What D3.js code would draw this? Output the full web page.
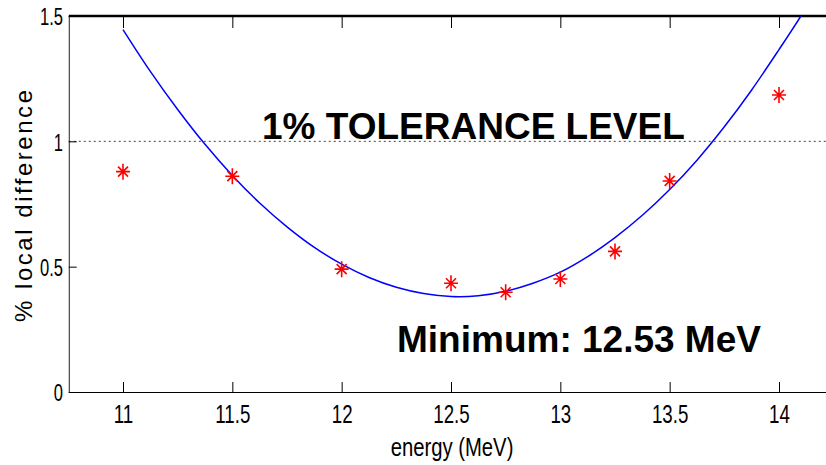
<!DOCTYPE html>
<html>
<head>
<meta charset="utf-8">
<script src="https://cdn.jsdelivr.net/npm/d3@7/dist/d3.min.js"></script>
<style>
  html, body { margin: 0; padding: 0; background: #fff; }
  svg { display: block; }
  .axis-text { font-family: "Liberation Sans", Arial, sans-serif; fill: #000; }
  .annot { font-family: "Liberation Sans", Arial, sans-serif; font-weight: bold; fill: #000; }
</style>
</head>
<body>
<script>
// ---- data ----
const measEnergy = [11, 11.5, 12, 12.5, 12.75, 13, 13.25, 13.5, 14];
const measDiff   = [0.879, 0.861, 0.49, 0.434, 0.398, 0.451, 0.561, 0.842, 1.185];

const fitEnergy = [11.0, 11.125, 11.25, 11.375, 11.5, 11.625, 11.75, 11.875, 12.0, 12.125, 12.25, 12.375,
                   12.5, 12.625, 12.75, 12.875, 13.0, 13.125, 13.25, 13.375, 13.5, 13.625, 13.75, 13.875, 14.0, 14.1, 14.15];
const fitDiff   = [1.446, 1.279, 1.127, 0.988, 0.864, 0.754, 0.659, 0.577, 0.510, 0.457, 0.418, 0.393,
                   0.381, 0.384, 0.402, 0.434, 0.478, 0.540, 0.616, 0.705, 0.808, 0.925, 1.058, 1.205, 1.366, 1.500, 1.575];

const xTicks = [11, 11.5, 12, 12.5, 13, 13.5, 14];
const xTickLabels = ["11", "11.5", "12", "12.5", "13", "13.5", "14"];
const yTicks = [0, 0.5, 1, 1.5];
const yTickLabels = ["0", "0.5", "1", "1.5"];
const toleranceLevel = 1;
const xLabel = "energy (MeV)";
const yLabel = "% local difference";
const toleranceText = "1% TOLERANCE LEVEL";
const minimumText = "Minimum: 12.53 MeV";

// ---- layout ----
const W = 826, H = 465;
const svg = d3.select("body").append("svg").attr("width", W).attr("height", H);

const x = d3.scaleLinear().domain([11, 14]).range([123, 779]);
const y = d3.scaleLinear().domain([0, 1.5]).range([392, 16]);
const xLeft = x(10.752), xRight = x(14.25);

// clip
svg.append("defs").append("clipPath").attr("id", "plotclip")
  .append("rect").attr("x", xLeft).attr("y", y(1.5)).attr("width", xRight - xLeft).attr("height", y(0) - y(1.5));

// tolerance dotted line
svg.append("line")
  .attr("x1", xLeft).attr("x2", xRight)
  .attr("y1", y(toleranceLevel)).attr("y2", y(toleranceLevel))
  .attr("stroke", "#444").attr("stroke-width", 1).attr("stroke-dasharray", "2,3");

// axes
const gBottom = svg.append("g").attr("transform", `translate(0,${y(0)})`)
  .call(d3.axisBottom(x).tickValues(xTicks).tickFormat((d, i) => xTickLabels[i]).tickSizeInner(-10).tickSizeOuter(0));
gBottom.select(".domain").attr("d", `M${xLeft},0.5H${xRight}`).attr("stroke", "#000").attr("stroke-width", 1.2);
gBottom.selectAll(".tick line").attr("stroke", "#000");
gBottom.selectAll(".tick text").attr("class", "axis-text").style("font-size", "26px")
  .attr("dy", 0).attr("y", 31).attr("x", 0)
  .attr("text-anchor", "middle").attr("transform", "scale(0.72,1)");

const gTop = svg.append("g").attr("transform", `translate(0,${y(1.5)})`)
  .call(d3.axisTop(x).tickValues(xTicks).tickFormat("").tickSizeInner(-12).tickSizeOuter(0));
gTop.select(".domain").attr("d", `M${xLeft},0H${xRight}`).attr("stroke", "#000").attr("stroke-width", 2.5);
gTop.selectAll(".tick line").attr("stroke", "#000");

const gLeft = svg.append("g").attr("transform", `translate(${xLeft},0)`)
  .call(d3.axisLeft(y).tickValues(yTicks).tickFormat((d, i) => yTickLabels[i]).tickSizeInner(-8).tickSizeOuter(0));
gLeft.select(".domain").attr("d", `M0.5,${y(1.5)}V${y(0)}`).attr("stroke", "#222").attr("stroke-width", 1);
gLeft.selectAll(".tick line").attr("stroke", "#000");
gLeft.selectAll(".tick text").attr("class", "axis-text").style("font-size", "23px")
  .attr("x", -8).attr("dy", "0.38em").attr("text-anchor", "end").attr("transform", "scale(0.72,1)");

// fit curve
const line = d3.line().x((d, i) => x(fitEnergy[i])).y((d, i) => y(fitDiff[i])).curve(d3.curveCatmullRom);
svg.append("path").datum(fitDiff).attr("clip-path", "url(#plotclip)")
  .attr("d", line).attr("fill", "none").attr("stroke", "#0000ff").attr("stroke-width", 1.5);

// asterisk markers
const star = (cx, cy) => {
  const v = 8, h = 7, dd = 5;
  return `M${cx},${cy - v}V${cy + v}M${cx - h},${cy}H${cx + h}` +
         `M${cx - dd},${cy - dd}L${cx + dd},${cy + dd}M${cx - dd},${cy + dd}L${cx + dd},${cy - dd}`;
};
svg.append("g").selectAll("path").data(measDiff).join("path")
  .attr("d", (d, i) => star(x(measEnergy[i]), y(d)))
  .attr("stroke", "#ff0000").attr("stroke-width", 1.6).attr("fill", "none");

// annotations
svg.append("text").attr("class", "annot").attr("x", 262).attr("y", 139)
  .style("font-size", "37px").text(toleranceText);
svg.append("text").attr("class", "annot").attr("x", 397).attr("y", 352)
  .style("font-size", "37px").text(minimumText);

// axis labels
svg.append("text").attr("class", "axis-text")
  .attr("transform", "translate(452,456) scale(0.78,1)")
  .attr("text-anchor", "middle").style("font-size", "26px").text(xLabel);
svg.append("text").attr("class", "axis-text")
  .attr("transform", "translate(32,206) rotate(-90)")
  .attr("text-anchor", "middle").style("font-size", "24px")
  .attr("textLength", 232).attr("lengthAdjust", "spacing")
  .text(yLabel);
</script>
</body>
</html>
